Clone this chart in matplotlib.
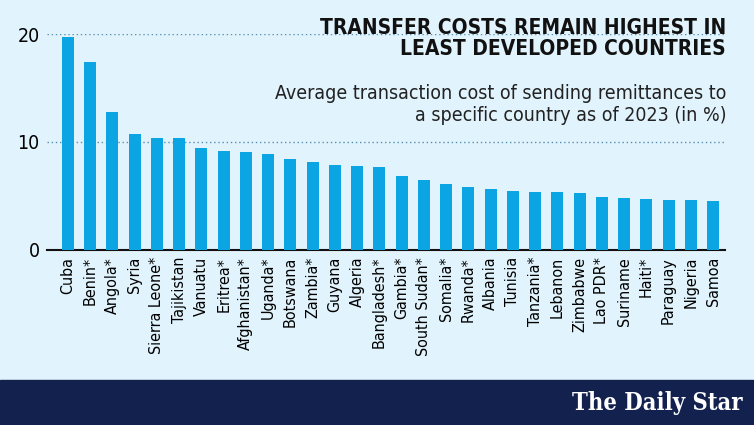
import matplotlib.pyplot as plt
from matplotlib import font_manager
from matplotlib.patches import Rectangle

names = {f.name for f in font_manager.fontManager.ttflist}
COND = "Liberation Sans Narrow" if "Liberation Sans Narrow" in names else "DejaVu Sans"
plt.rcParams["font.family"] = [COND, "DejaVu Sans"]
plt.rcParams["font.stretch"] = "condensed"

countries = ["Cuba", "Benin*", "Angola*", "Syria", "Sierra Leone*", "Tajikistan",
             "Vanuatu", "Eritrea*", "Afghanistan*", "Uganda*", "Botswana", "Zambia*",
             "Guyana", "Algeria", "Bangladesh*", "Gambia*", "South Sudan*", "Somalia*",
             "Rwanda*", "Albania", "Tunisia", "Tanzania*", "Lebanon", "Zimbabwe",
             "Lao PDR*", "Suriname", "Haiti*", "Paraguay", "Nigeria", "Samoa"]
costs = [19.7, 17.4, 12.8, 10.7, 10.4, 10.4, 9.4, 9.2, 9.1, 8.9, 8.4, 8.1,
         7.9, 7.8, 7.7, 6.8, 6.5, 6.1, 5.8, 5.6, 5.5, 5.4, 5.4, 5.3,
         4.9, 4.8, 4.7, 4.6, 4.6, 4.5]
yticks = [0, 10, 20]

BG = "#e1f3fc"
BAR = "#0aa5e2"

fig = plt.figure(figsize=(7.54, 4.25), dpi=100, facecolor=BG)
ax = fig.add_axes([0.062, 0.412, 0.9, 0.508])
ax.set_facecolor(BG)

ax.bar(range(len(countries)), costs, width=0.54, color=BAR, zorder=3)
ax.set_xlim(-0.95, len(countries) - 0.45)
ax.set_ylim(0, 20)
for t in yticks[1:]:
    ax.axhline(t, color="#5b8fb0", lw=1, ls=(0, (1, 2)), zorder=1)
ax.set_yticks(yticks)
ax.set_yticklabels([str(t) for t in yticks], fontsize=14)
ax.set_xticks(range(len(countries)))
ax.set_xticklabels(countries, rotation=90, fontsize=11.5)
ax.tick_params(length=0, pad=5)
for s in ["top", "right", "left"]:
    ax.spines[s].set_visible(False)
ax.spines["bottom"].set_linewidth(1.5)
ax.spines["bottom"].set_color("#111111")

fig.text(0.963, 0.91, "TRANSFER COSTS REMAIN HIGHEST IN\nLEAST DEVELOPED COUNTRIES",
         ha="right", va="center", fontsize=15, fontweight="bold", linespacing=1.05,
         color="#111111")
fig.text(0.963, 0.755, "Average transaction cost of sending remittances to\n"
         "a specific country as of 2023 (in %)",
         ha="right", va="center", fontsize=14, linespacing=1.2, color="#222222")

fig.patches.append(Rectangle((0, 0), 1, 0.105, transform=fig.transFigure,
                             color="#13214f", zorder=0))
fig.text(0.985, 0.052, "The Daily Star", ha="right", va="center", fontsize=17,
         color="white", family="DejaVu Serif", fontweight="bold")

fig.savefig("out.png", dpi=100, facecolor=BG)
